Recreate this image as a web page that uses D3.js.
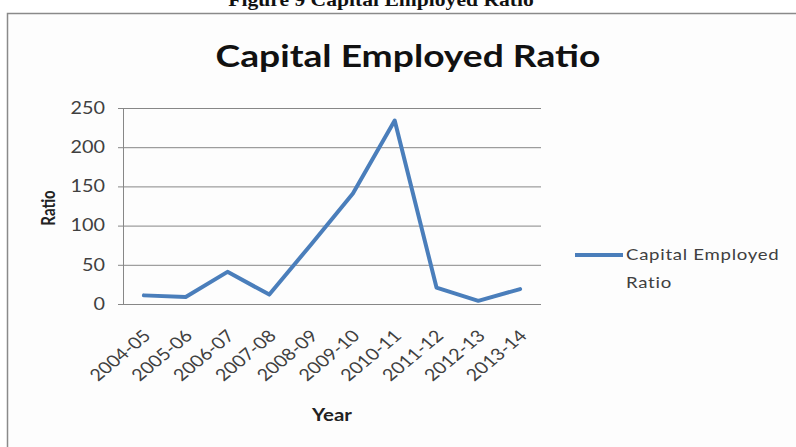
<!DOCTYPE html>
<html>
<head>
<meta charset="utf-8">
<script src="https://cdn.jsdelivr.net/npm/d3@7"></script>
<style>
  html, body { margin: 0; padding: 0; background: #fff; }
  svg { display: block; }
</style>
</head>
<body>
<svg id="chart" width="796" height="447"></svg>
<script>
// Capital employed ratio by financial year
const years = ["2004-05", "2005-06", "2006-07", "2007-08", "2008-09",
               "2009-10", "2010-11", "2011-12", "2012-13", "2013-14"];
const ratio = [11, 9, 41, 12, 76, 141, 234, 21, 4, 19];
const yTicks = [0, 50, 100, 150, 200, 250];

const seriesName = "Capital Employed Ratio";
const lineColor = "#4a7ebb";
const gridColor = "#878787";
const textColor = "#404040";
const uiFont = "Lato, 'Open Sans', sans-serif";
const sx = 1.2; // horizontal widening applied to all lettering

const svg = d3.select("#chart");

// Places a piece of text at (x, y), widened horizontally
function label(x, y, str, opts = {}) {
  return svg.append("text")
    .attr("transform", `translate(${x},${y}) scale(${sx},1)` + (opts.rotate ? ` rotate(${opts.rotate})` : ""))
    .attr("text-anchor", opts.anchor || "start")
    .attr("font-family", opts.family || uiFont)
    .attr("font-weight", opts.weight || "normal")
    .attr("font-size", opts.size || 16)
    .attr("fill", opts.fill || textColor)
    .text(str);
}

// Figure caption above the chart frame (partly cut off at the top)
label(381, 6, "Figure 9 Capital Employed Ratio", {
  anchor: "middle", family: "'Liberation Serif', 'DejaVu Serif', serif",
  weight: "bold", size: 18, fill: "#111"
});

// Chart frame
svg.append("rect")
  .attr("x", 7.5).attr("y", 13.5)
  .attr("width", 800).attr("height", 450)
  .attr("fill", "#fdfdfd")
  .attr("stroke", "#8a8a8a")
  .attr("stroke-width", 1.5);

// Chart title
label(408, 67, seriesName, { anchor: "middle", weight: "bold", size: 31, fill: "#111" });

const plot = { left: 123, right: 541, top: 108, bottom: 304 };

const x = d3.scaleBand()
  .domain(years)
  .range([plot.left, plot.right]);

const y = d3.scaleLinear()
  .domain([0, 250])
  .range([plot.bottom, plot.top]);

// Horizontal gridlines with left tick marks and labels
const yAxis = d3.axisLeft(y)
  .tickValues(yTicks)
  .tickSize(-(plot.right - plot.left))
  .tickPadding(15)
  .tickFormat(d3.format("d"));

const gy = svg.append("g")
  .attr("transform", `translate(${plot.left},0)`)
  .call(yAxis);
gy.select(".domain").remove();
gy.selectAll(".tick line")
  .attr("x1", -5)
  .attr("stroke", gridColor)
  .attr("stroke-width", 1);
gy.selectAll(".tick text")
  .attr("transform", `scale(${sx},1)`)
  .attr("font-family", uiFont)
  .attr("font-size", 16.5)
  .attr("fill", textColor);

// Vertical axis line
svg.append("line")
  .attr("x1", plot.left + 0.5).attr("x2", plot.left + 0.5)
  .attr("y1", plot.top).attr("y2", plot.bottom)
  .attr("stroke", gridColor);

// Category axis labels, slanted
const xAxis = d3.axisBottom(x).tickSize(0).tickPadding(0);
const gx = svg.append("g")
  .attr("transform", `translate(0,${plot.bottom})`)
  .call(xAxis);
gx.select(".domain").remove();
gx.selectAll(".tick text")
  .attr("font-family", uiFont)
  .attr("font-size", 16.5)
  .attr("fill", textColor)
  .attr("text-anchor", "end")
  .attr("dy", null)
  .attr("y", 0)
  .attr("transform", `translate(8,33) scale(${sx},1) rotate(-45)`);

// Axis titles
label(55, 208, "Ratio", { anchor: "middle", weight: "bold", size: 15, fill: "#222", rotate: -90 });
label(332, 421, "Year", { anchor: "middle", weight: "bold", size: 17, fill: "#222" });

// Data line
const line = d3.line()
  .x((d, i) => x(years[i]) + x.bandwidth() / 2)
  .y(d => y(d));

svg.append("path")
  .datum(ratio)
  .attr("d", line)
  .attr("fill", "none")
  .attr("stroke", lineColor)
  .attr("stroke-width", 4)
  .attr("stroke-linejoin", "round")
  .attr("stroke-linecap", "round");

// Legend
svg.append("line")
  .attr("x1", 575).attr("x2", 623)
  .attr("y1", 255).attr("y2", 255)
  .attr("stroke", lineColor)
  .attr("stroke-width", 4);
label(626, 260, "Capital Employed", { size: 15.5 }).attr("letter-spacing", 0.6);
label(626, 288, "Ratio", { size: 15.5 }).attr("letter-spacing", 0.6);
</script>
</body>
</html>
